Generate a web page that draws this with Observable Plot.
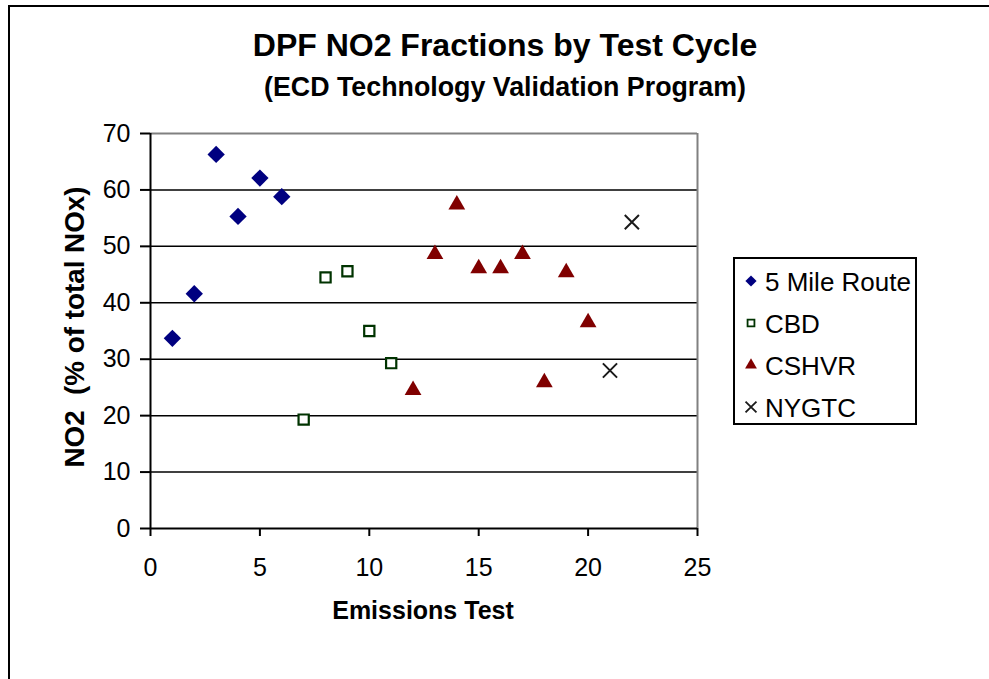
<!DOCTYPE html>
<html>
<head>
<meta charset="utf-8">
<script src="https://cdn.jsdelivr.net/npm/d3@7"></script>
<script src="https://cdn.jsdelivr.net/npm/@observablehq/plot@0.6"></script>
<style>
  html, body { margin: 0; padding: 0; background: #fff; }
  #wrap { position: relative; width: 989px; height: 679px; overflow: hidden; font-family: "Liberation Sans", Arial, sans-serif; }
  #frame { position: absolute; left: 8px; top: 5px; width: 1000px; height: 700px; border: 2px solid #000; box-sizing: border-box; }
  #chart { position: absolute; left: 0; top: 0; }
  .t { position: absolute; font-weight: bold; white-space: pre; color: #000; line-height: 1.15; }
  #title { left: 0; width: 1010px; text-align: center; top: 27px; font-size: 32px; }
  #subtitle { left: 0; width: 1010px; text-align: center; top: 72px; font-size: 26.8px; }
  #xlabel { left: 273px; width: 300px; text-align: center; top: 596px; font-size: 25px; }
  #ylabel { left: 75px; top: 327px; font-size: 27.8px; transform: translate(-50%, -50%) rotate(-90deg); }
  #legend { position: absolute; left: 733px; top: 257px; width: 184px; height: 168px; border: 2px solid #000; box-sizing: border-box; background: #fff; }
  .li { position: absolute; left: 0; height: 30px; font-size: 26px; line-height: 30px; }
  .li svg { position: absolute; left: 8px; top: 6px; }
  .li span { position: absolute; left: 30px; white-space: pre; }
</style>
</head>
<body>
<div id="wrap">
  <div id="frame"></div>
  <div id="chart"></div>
  <div class="t" id="title">DPF NO2 Fractions by Test Cycle</div>
  <div class="t" id="subtitle">(ECD Technology Validation Program)</div>
  <div class="t" id="xlabel">Emissions Test</div>
  <div class="t" id="ylabel">NO2  (% of total NOx)</div>
  <div id="legend"></div>
</div>
<script>
const seriesNames = ["5 Mile Route", "CBD", "CSHVR", "NYGTC"];

const fiveMileTests = [1, 2, 3, 4, 5, 6];
const fiveMileNO2 = [33.7, 41.6, 66.3, 55.3, 62.1, 58.8];

const cbdTests = [7, 8, 9, 10, 11];
const cbdNO2 = [19.3, 44.5, 45.6, 35.0, 29.3];

const cshvrTests = [12, 13, 14, 15, 16, 17, 18, 19, 20];
const cshvrNO2 = [24.5, 48.6, 57.4, 46.1, 46.1, 48.6, 25.9, 45.4, 36.5];

const nygtcTests = [21, 22];
const nygtcNO2 = [28.0, 54.3];

const xTicks = [0, 5, 10, 15, 20, 25];
const yTicks = [0, 10, 20, 30, 40, 50, 60, 70];

const toRows = (xs, ys) => xs.map((x, i) => ({test: x, no2: ys[i]}));
const fiveMile = toRows(fiveMileTests, fiveMileNO2);
const cbd = toRows(cbdTests, cbdNO2);
const cshvr = toRows(cshvrTests, cshvrNO2);
const nygtc = toRows(nygtcTests, nygtcNO2);

const chart = Plot.plot({
  width: 989,
  height: 679,
  marginLeft: 150,
  marginRight: 292,
  marginTop: 133,
  marginBottom: 151,
  style: {fontFamily: "'Liberation Sans', Arial, sans-serif", background: "transparent", overflow: "visible"},
  x: {domain: [0, 25]},
  y: {domain: [0, 70]},
  marks: [
    Plot.gridY(yTicks.filter(d => d > 0 && d < 70), {stroke: "#000", strokeOpacity: 1, strokeWidth: 1.5}),
    Plot.ruleY([70], {stroke: "#808080", strokeWidth: 2}),
    Plot.ruleX([25], {stroke: "#808080", strokeWidth: 2}),
    Plot.axisY({ticks: yTicks, tickSize: 10, tickPadding: 10, fontSize: 25, label: null, stroke: "#000", strokeWidth: 2, strokeOpacity: 1, fill: "#000"}),
    Plot.axisX({ticks: xTicks, tickSize: 8, tickPadding: 22, fontSize: 25, label: null, stroke: "#000", strokeWidth: 2, strokeOpacity: 1, fill: "#000"}),
    Plot.ruleX([0], {stroke: "#000", strokeWidth: 2}),
    Plot.ruleY([0], {stroke: "#000", strokeWidth: 2}),
    Plot.dot(fiveMile, {x: "test", y: "no2", symbol: "diamond2", r: 7.8, fill: "#000080", stroke: "none"}),
    Plot.dot(cbd, {x: "test", y: "no2", symbol: "square2", r: 6.5, fill: "#fff", stroke: "#003300", strokeWidth: 2.2}),
    Plot.dot(cshvr, {x: "test", y: "no2", symbol: "triangle2", r: 8, fill: "#800000", stroke: "none"}),
    Plot.dot(nygtc, {x: "test", y: "no2", symbol: "times", r: 6.5, stroke: "#1a1a1a", strokeWidth: 2})
  ]
});
document.getElementById("chart").appendChild(chart);

// Legend
const legendStyles = [
  {sym: d3.symbolDiamond2 || d3.symbolDiamond, fill: "#000080", stroke: "none", size: 80},
  {sym: d3.symbolSquare2 || d3.symbolSquare, fill: "#fff", stroke: "#003300", size: 60},
  {sym: d3.symbolTriangle2 || d3.symbolTriangle, fill: "#800000", stroke: "none", size: 100},
  {sym: d3.symbolTimes || d3.symbolX, fill: "none", stroke: "#1a1a1a", size: 80}
];
const legend = document.getElementById("legend");
seriesNames.forEach((name, i) => {
  const item = document.createElement("div");
  item.className = "li";
  item.style.top = (8 + i * 42) + "px";
  const s = legendStyles[i];
  const path = d3.symbol(s.sym, s.size)();
  item.innerHTML = `<svg width="16" height="16" viewBox="-8 -8 16 16"><path d="${path}" fill="${s.fill}" stroke="${s.stroke}" stroke-width="1.8"/></svg><span>${name}</span>`;
  legend.appendChild(item);
});
</script>
</body>
</html>
